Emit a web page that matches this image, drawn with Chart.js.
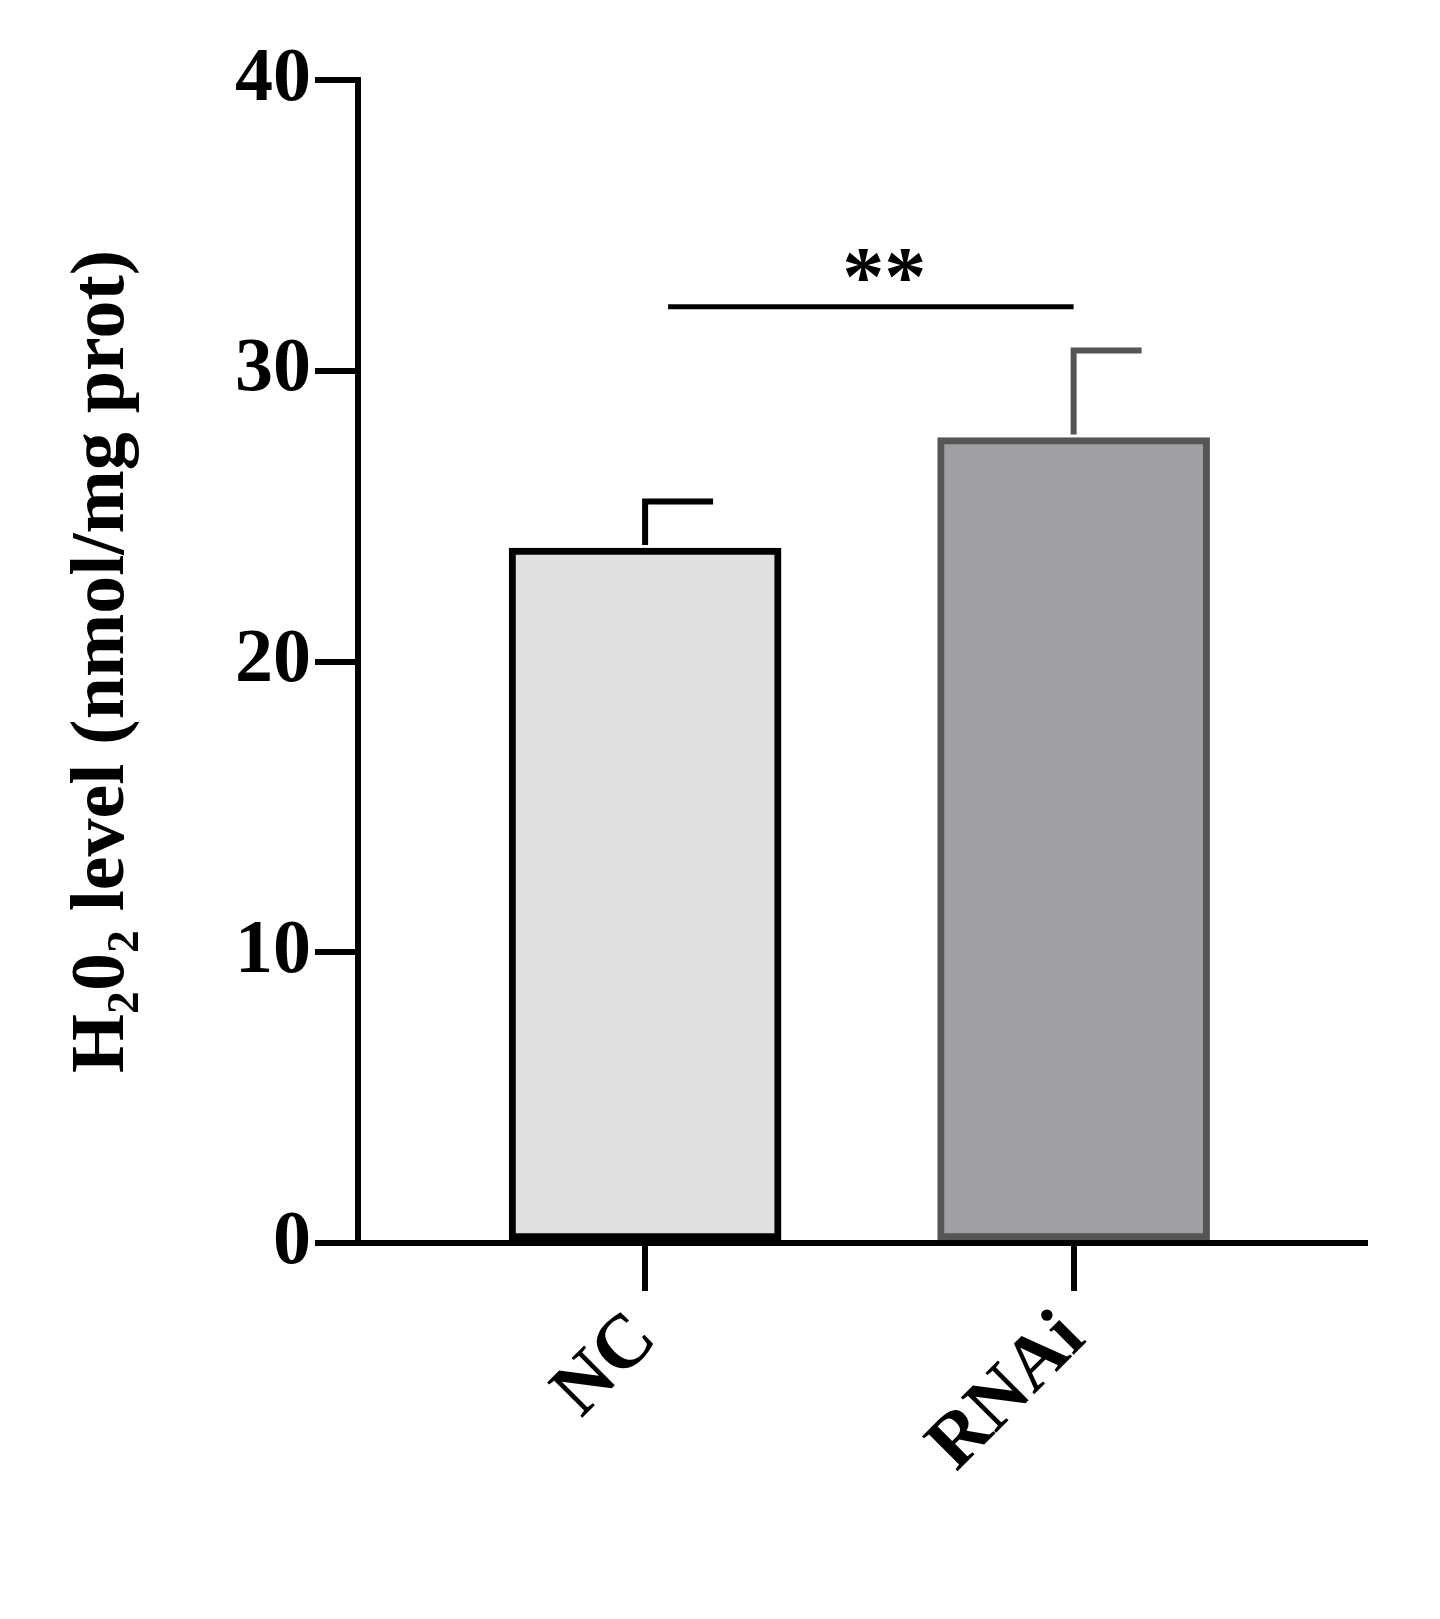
<!DOCTYPE html>
<html>
<head>
<meta charset="utf-8">
<script src="https://cdn.jsdelivr.net/npm/chart.js@4"></script>
<style>
  html, body { margin: 0; padding: 0; background: #fff; }
  #wrap { width: 1440px; height: 1619px; }
</style>
</head>
<body>
<div id="wrap"><canvas id="c"></canvas></div>
<script>
// groups, means and upper error (SD)
var groups = ['NC', 'RNAi'];
var means = [23.9, 27.7];
var errors = [1.6, 3.0];
var fills = ['#e0e0e0', '#a0a0a4'];
var edges = ['#000000', '#555555'];
var sigY = 32.2;
var sigText = '**';
var yTicks = [0, 10, 20, 30, 40];

var font = 'Liberation Serif';

// error bars + significance line
var extras = {
  id: 'extras',
  afterDatasetsDraw: function(chart) {
    var ctx = chart.ctx, xs = chart.scales.x, ys = chart.scales.y;
    ctx.save();
    ctx.lineWidth = 6;
    for (var i = 0; i < means.length; i++) {
      var x = xs.getPixelForValue(i);
      var y0 = ys.getPixelForValue(means[i]);
      var y1 = ys.getPixelForValue(means[i] + errors[i]);
      ctx.strokeStyle = edges[i];
      ctx.beginPath();
      ctx.moveTo(x, y0 - 3); ctx.lineTo(x, y1);
      ctx.moveTo(x - 3, y1); ctx.lineTo(x + 68, y1);
      ctx.stroke();
    }
    var sy = ys.getPixelForValue(sigY);
    ctx.strokeStyle = '#000';
    ctx.lineWidth = 5;
    ctx.beginPath();
    ctx.moveTo(xs.getPixelForValue(0) + 23, sy);
    ctx.lineTo(xs.getPixelForValue(1), sy);
    ctx.stroke();
    ctx.fillStyle = '#000';
    ctx.font = 'bold 84px ' + font;
    ctx.textAlign = 'center';
    ctx.textBaseline = 'alphabetic';
    ctx.fillText(sigText, (xs.getPixelForValue(0) + xs.getPixelForValue(1)) / 2 + 25, sy - 2);
    ctx.restore();
  }
};

new Chart(document.getElementById('c'), {
  type: 'bar',
  data: {
    datasets: [{
      data: means.map(function(v, i) { return { x: i, y: v }; }),
      backgroundColor: fills,
      borderColor: edges,
      borderWidth: 7,
      barThickness: 272,
      borderSkipped: false
    }]
  },
  options: {
    responsive: true,
    maintainAspectRatio: false,
    animation: false,
    layout: { padding: { left: 0, top: 80, right: 75, bottom: 0 } },
    plugins: { legend: { display: false }, tooltip: { enabled: false } },
    scales: {
      x: {
        type: 'linear',
        offset: false,
        min: -0.67,
        max: 1.68,
        afterBuildTicks: function(s) { s.ticks = [{ value: 0 }, { value: 1 }]; },
        afterFit: function(s) { s.height = 376; },
        border: { color: '#000', width: 6 },
        grid: { offset: false, drawOnChartArea: false, color: '#000', lineWidth: 6, tickLength: 48 },
        ticks: {
          color: '#000',
          font: { family: font, size: 76, weight: 'bold' },
          maxRotation: 45, minRotation: 45,
          padding: 4,
          callback: function(v) { return groups[v]; }
        }
      },
      y: {
        min: 0,
        max: 40,
        afterBuildTicks: function(s) { s.ticks = yTicks.map(function(v) { return { value: v }; }); },
        afterFit: function(s) { s.width = 358; },
        border: { color: '#000', width: 6 },
        grid: { drawOnChartArea: false, color: '#000', lineWidth: 6, tickLength: 43 },
        ticks: {
          color: '#000',
          font: { family: font, size: 76, weight: 'bold' },
          padding: 4
        },
        title: {
          display: true,
          text: 'H\u20820\u2082 level (nmol/mg prot)',
          color: '#000',
          font: { family: font, size: 76, weight: 'bold' },
          padding: { top: 58, bottom: 0 }
        }
      }
    }
  },
  plugins: [extras]
});
</script>
</body>
</html>
